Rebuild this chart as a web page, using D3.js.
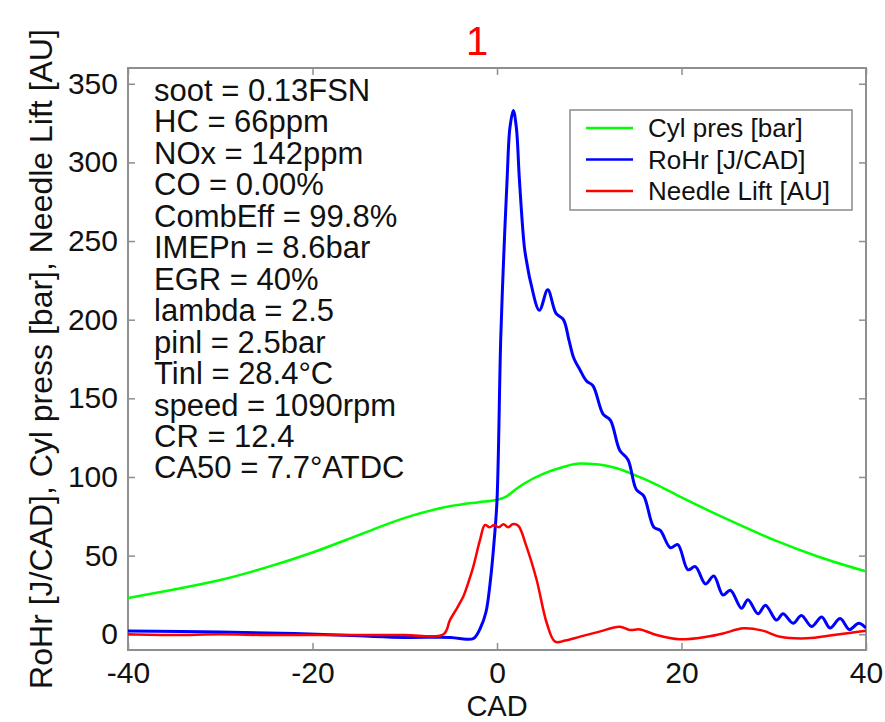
<!DOCTYPE html>
<html>
<head>
<meta charset="utf-8">
<script src="https://cdn.jsdelivr.net/npm/d3@7"></script>
<style>
body { margin: 0; background: #ffffff; }
svg { display: block; font-family: "Liberation Sans", Arial, sans-serif; }
</style>
</head>
<body>
<svg id="chart" width="885" height="722"></svg>
<script>
// Cylinder pressure [bar] vs CAD
const presCad = [-40, -35, -30, -25, -20, -15, -10, -5, -2, 0, 1, 2, 3, 5, 7, 9, 11, 13, 15, 17, 20, 25, 30, 35, 40];
const presValues = [23, 28.5, 34.5, 42.5, 52, 63, 74, 81.5, 84, 85.5, 87.5, 92, 96, 102, 106, 108.5, 108, 105.5, 101, 96, 87, 73, 60, 49, 40];

// Rate of heat release [J/CAD] vs CAD
const rohrCad = [-40, -30, -22, -15, -10, -5, -3.3, -2.5, -1.8, -1.2, -0.7, -0.3, 0, 0.4, 0.7, 1.1, 1.4, 1.77, 2.1, 2.43, 2.97, 3.3, 3.6, 4.6, 5.5, 6.4, 7.2, 7.8, 8.3, 9.0, 9.7, 10.4, 11.5, 12.3, 13.3, 14.2, 15.1, 15.9, 17.0, 17.7, 18.8, 19.6, 20.7, 21.5, 22.6, 23.5, 24.5, 25.3, 26.5, 27.2, 28.3, 29.1, 30.3, 31.0, 32.1, 33.0, 34.1, 35.2, 36.1, 37.2, 38.2, 39.2, 40];
const rohrValues = [2, 1.5, 0.5, -1, -2, -2, -3.2, -2.5, 4, 14, 35, 60, 85, 187, 236, 290, 322, 333, 322, 289, 246, 234, 225, 206, 219, 204, 200, 187, 176, 168, 161, 158, 140, 136, 117, 111, 92, 88, 68, 66, 55, 57, 41, 43, 32, 37, 25, 28, 16.5, 22, 13, 18.5, 9, 13, 7, 12, 5, 11, 4, 10, 3, 7, 4];

// Needle lift [AU] vs CAD
const liftCad = [-40, -35, -30, -25, -20, -15, -10, -5.8, -5.1, -4.3, -3.65, -3.1, -2.57, -1.84, -1.3, -0.8, -0.3, 0.2, 0.7, 1.2, 1.7, 2.3, 3.2, 4.3, 5.4, 6.3, 7.4, 9.0, 11, 13.3, 14.4, 15.5, 17.3, 19.8, 22.7, 24.5, 26.7, 28.8, 30.7, 33.6, 36.5, 40];
const liftValues = [0, -0.5, 0, -0.5, -0.5, -0.5, -0.5, 0, 9, 17, 24, 33, 43, 60, 69.5, 68, 69.5, 68, 70, 68, 70, 69, 55.7, 34.5, 7, -4.7, -4, -1.5, 1.5, 4.8, 2.7, 3.1, -0.5, -3.2, -1.6, 0.5, 3.8, 2.3, -1.6, -2.6, -0.5, 2.3];

// Ticks, legend and text
const xTicks = [-40, -20, 0, 20, 40];
const yTicks = [0, 50, 100, 150, 200, 250, 300, 350];
const legendLabels = ["Cyl pres [bar]", "RoHr [J/CAD]", "Needle Lift [AU]"];
const seriesColors = ["#00ff00", "#0000ff", "#ff0000"];
const infoLines = [
    "soot = 0.13FSN",
    "HC = 66ppm",
    "NOx = 142ppm",
    "CO = 0.00%",
    "CombEff = 99.8%",
    "IMEPn = 8.6bar",
    "EGR = 40%",
    "lambda = 2.5",
    "pinl = 2.5bar",
    "Tinl = 28.4°C",
    "speed = 1090rpm",
    "CR = 12.4",
    "CA50 = 7.7°ATDC"
];

const svg = d3.select("#chart");
const plot = { left: 128, top: 68, right: 866, bottom: 650 };

const x = d3.scaleLinear().domain([-40, 40]).range([plot.left, plot.right]);
const y = d3.scaleLinear().domain([-10, 360]).range([plot.bottom, plot.top]);

const axisColor = "#8f8f8f";
const plainNumber = (d) => String(d);

// Axes, ticks pointing inward
const styleAxis = (g, fontSize) => {
    g.select(".domain").remove();
    g.selectAll(".tick line").attr("stroke", axisColor).attr("stroke-width", 1.5);
    g.selectAll(".tick text")
        .attr("fill", "#111")
        .style("font-size", fontSize + "px")
        .style("font-family", "'Liberation Sans', Arial, sans-serif");
};

svg.append("g")
    .attr("transform", `translate(0,${plot.bottom})`)
    .call(d3.axisBottom(x).tickValues(xTicks).tickFormat(plainNumber)
        .tickSizeInner(-7).tickSizeOuter(0).tickPadding(12))
    .call((g) => styleAxis(g, 30));

svg.append("g")
    .attr("transform", `translate(0,${plot.top})`)
    .call(d3.axisTop(x).tickValues(xTicks).tickSizeInner(-7).tickSizeOuter(0).tickFormat(""))
    .call((g) => styleAxis(g, 30));

svg.append("g")
    .attr("transform", `translate(${plot.left},0)`)
    .call(d3.axisLeft(y).tickValues(yTicks).tickFormat(plainNumber)
        .tickSizeInner(-7).tickSizeOuter(0).tickPadding(10))
    .call((g) => styleAxis(g, 30));

svg.append("g")
    .attr("transform", `translate(${plot.right},0)`)
    .call(d3.axisRight(y).tickValues(yTicks).tickSizeInner(-7).tickSizeOuter(0).tickFormat(""))
    .call((g) => styleAxis(g, 30));

// Plot box
svg.append("rect")
    .attr("x", plot.left)
    .attr("y", plot.top)
    .attr("width", plot.right - plot.left)
    .attr("height", plot.bottom - plot.top)
    .attr("fill", "none")
    .attr("stroke", axisColor)
    .attr("stroke-width", 2);

// Curves
svg.append("clipPath")
    .attr("id", "plot-clip")
    .append("rect")
    .attr("x", plot.left)
    .attr("y", plot.top)
    .attr("width", plot.right - plot.left)
    .attr("height", plot.bottom - plot.top);

const smoothLine = d3.line()
    .x((d) => x(d[0]))
    .y((d) => y(d[1]))
    .curve(d3.curveMonotoneX);

const wavyLine = d3.line()
    .x((d) => x(d[0]))
    .y((d) => y(d[1]))
    .curve(d3.curveCatmullRom.alpha(0.5));

const series = [
    { cad: presCad, values: presValues, width: 2.5, line: smoothLine },
    { cad: rohrCad, values: rohrValues, width: 3, line: wavyLine },
    { cad: liftCad, values: liftValues, width: 2.5, line: wavyLine }
];

const curves = svg.append("g").attr("clip-path", "url(#plot-clip)");
series.forEach((s, i) => {
    const points = s.cad.map((c, j) => [c, s.values[j]]);
    curves.append("path")
        .datum(points)
        .attr("fill", "none")
        .attr("stroke", seriesColors[i])
        .attr("stroke-width", s.width)
        .attr("stroke-linejoin", "round")
        .attr("d", s.line);
});

// Operating point text
const info = svg.append("text")
    .attr("x", 154)
    .attr("y", 101)
    .attr("fill", "#111")
    .style("font-size", "31px");

infoLines.forEach((txt, i) => {
    info.append("tspan")
        .attr("x", 154)
        .attr("y", 101 + i * 31.45)
        .text(txt);
});

// Legend
const legend = svg.append("g").attr("transform", "translate(570,110)");

legend.append("rect")
    .attr("width", 282)
    .attr("height", 100)
    .attr("fill", "#ffffff")
    .attr("stroke", "#8a8a8a")
    .attr("stroke-width", 1.5);

legendLabels.forEach((label, i) => {
    const rowY = 18 + i * 31.5;
    legend.append("line")
        .attr("x1", 16)
        .attr("x2", 63)
        .attr("y1", rowY)
        .attr("y2", rowY)
        .attr("stroke", seriesColors[i])
        .attr("stroke-width", 2.5);
    legend.append("text")
        .attr("x", 78)
        .attr("y", rowY + 9)
        .attr("fill", "#111")
        .style("font-size", "26px")
        .text(label);
});

// Title and axis labels
svg.append("text")
    .attr("x", 477)
    .attr("y", 55)
    .attr("text-anchor", "middle")
    .attr("fill", "#ff0000")
    .style("font-size", "40px")
    .text("1");

svg.append("text")
    .attr("x", 497)
    .attr("y", 716)
    .attr("text-anchor", "middle")
    .attr("fill", "#111")
    .style("font-size", "29px")
    .text("CAD");

svg.append("text")
    .attr("transform", "translate(52,359) rotate(-90)")
    .attr("text-anchor", "middle")
    .attr("fill", "#111")
    .style("font-size", "32px")
    .text("RoHr [J/CAD], Cyl press [bar], Needle Lift [AU]");
</script>
</body>
</html>
